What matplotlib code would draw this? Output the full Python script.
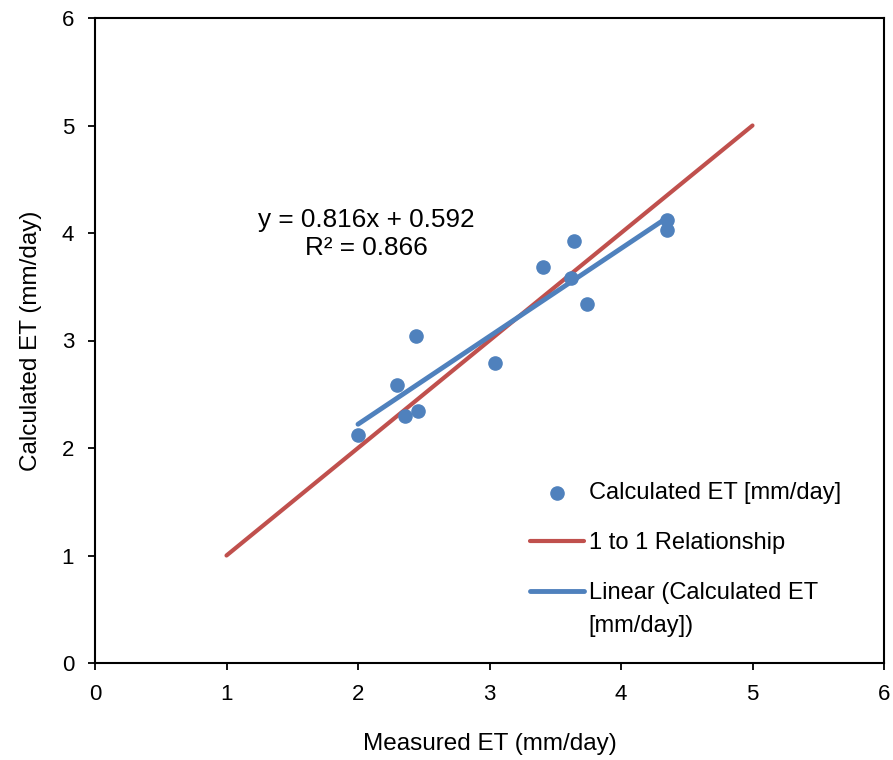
import numpy as np
import matplotlib.pyplot as plt

plt.rcParams['font.family'] = ['Liberation Sans', 'DejaVu Sans']

# measured vs calculated ET (mm/day)
measured = [2.00, 2.30, 2.36, 2.44, 2.46, 3.04, 3.41, 3.62, 3.64, 3.74, 4.35, 4.35]
calculated = [2.12, 2.59, 2.30, 3.04, 2.34, 2.79, 3.68, 3.58, 3.93, 3.34, 4.12, 4.03]
one_to_one = [1, 5]
eq_text = "y = 0.816x + 0.592\nR\u00b2 = 0.866"

BLUE = "#4F81BD"
RED = "#C0504D"

fig = plt.figure(figsize=(8.93, 7.6), dpi=100)
ax = fig.add_axes([95 / 893, 1 - 663 / 760, (884 - 95) / 893, (663 - 18) / 760])

ax.scatter(measured, calculated, s=90, color=BLUE, zorder=3, label="Calculated ET [mm/day]")
ax.plot(one_to_one, one_to_one, color=RED, lw=3, solid_capstyle="round",
        label="1 to 1 Relationship", zorder=2)

x = np.array(measured)
m, b = np.polyfit(x, calculated, 1)
xx = np.array([x.min(), x.max()])
ax.plot(xx, m * xx + b, color=BLUE, lw=3.5, solid_capstyle="round",
        label="Linear (Calculated ET\n[mm/day])", zorder=2)

ax.text(2.06, 3.99, eq_text, ha="center", va="center", fontsize=18.8, linespacing=1.2)

ax.set_xlim(0, 6)
ax.set_ylim(0, 6)
ax.set_xticks(range(7))
ax.set_yticks(range(7))
ax.tick_params(labelsize=16, direction="out", length=5, width=1.3, pad=10)
for s in ax.spines.values():
    s.set_color("black")
    s.set_linewidth(1.5)
ax.set_xlabel("Measured ET (mm/day)", fontsize=17.5, labelpad=20)
ax.set_ylabel("Calculated ET (mm/day)", fontsize=17.5, labelpad=14)

leg = ax.legend(loc="upper left", bbox_to_anchor=(518 / 893, 1 - 470 / 760),
                bbox_transform=fig.transFigure, frameon=False, fontsize=17,
                handlelength=2.3, handletextpad=0.2, labelspacing=1.2, borderpad=0)
for t in leg.get_texts():
    t.set_linespacing(1.6)
# put the trendline handle level with the first line of its two-line label
trend_handle = leg.legend_handles[2]
trend_handle.set_ydata(np.asarray(trend_handle.get_ydata()) + 13.7)

fig.savefig("out.png", dpi=100)
